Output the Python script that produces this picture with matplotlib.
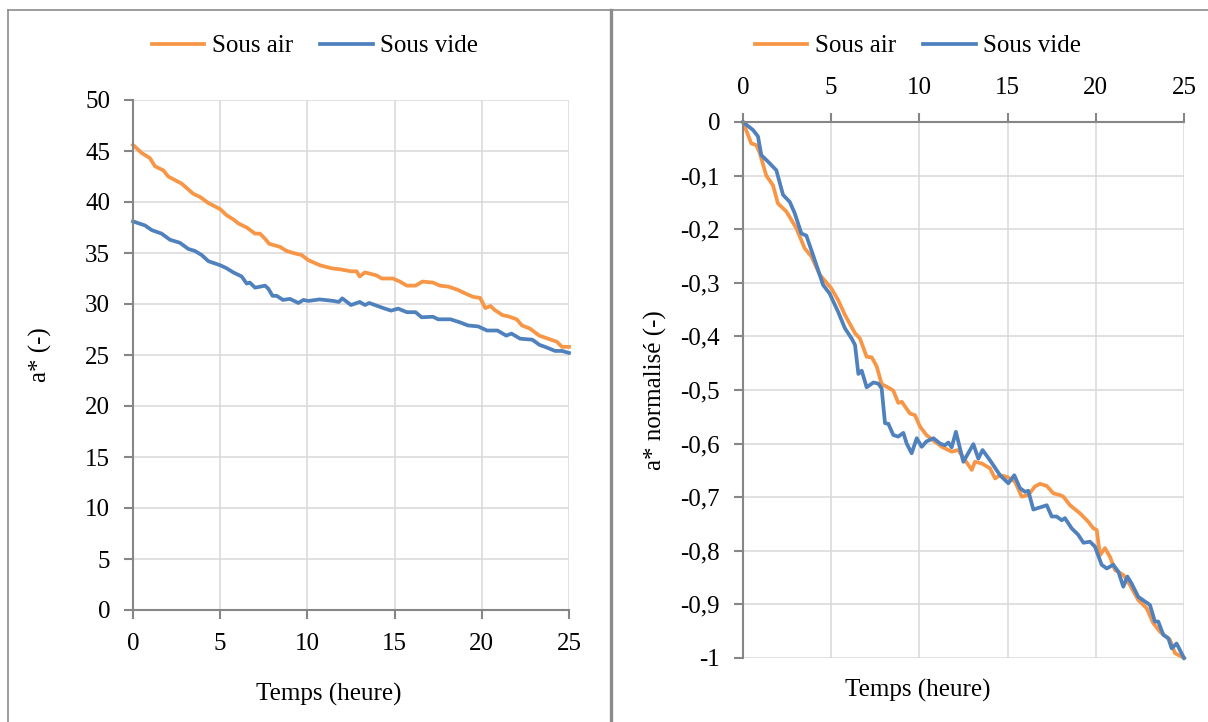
import matplotlib
matplotlib.use("Agg")
import matplotlib.pyplot as plt
from matplotlib.lines import Line2D
from matplotlib.ticker import FuncFormatter

plt.rcParams['font.family'] = ['Liberation Serif', 'DejaVu Serif']
plt.rcParams['font.size'] = 18

# --- a* brut (panneau gauche)
t_air = [0, 0.5, 0.97, 1.26, 1.74, 2.02, 2.79, 3.46, 3.84, 4.32,
         5.0, 5.37, 5.75, 6.04, 6.52, 7.0, 7.28, 7.57, 7.81, 8.43,
         8.81, 9.19, 9.67, 10.05, 10.72, 11.39, 11.87, 12.53, 12.82, 13.0,
         13.3, 13.97, 14.26, 14.9, 15.3, 15.7, 16.2, 16.6, 17.2, 17.6,
         18.1, 18.6, 19.1, 19.5, 19.9, 20.2, 20.5, 20.75, 21.2, 21.5,
         22.0, 22.3, 22.75, 23.3, 23.8, 24.3, 24.6, 25.0]
a_air = [45.6, 44.8, 44.3, 43.5, 43.1, 42.5, 41.8, 40.8, 40.5, 39.9,
         39.3, 38.7, 38.3, 37.9, 37.5, 36.9, 36.9, 36.4, 35.9, 35.6,
         35.2, 35.0, 34.8, 34.3, 33.8, 33.5, 33.4, 33.2, 33.2, 32.7,
         33.1, 32.8, 32.5, 32.5, 32.2, 31.8, 31.8, 32.2, 32.1, 31.8,
         31.7, 31.4, 31.0, 30.7, 30.6, 29.6, 29.8, 29.4, 28.9, 28.8,
         28.5, 27.9, 27.6, 26.9, 26.6, 26.3, 25.8, 25.8]

t_vide = [0, 0.69, 1.07, 1.64, 2.12, 2.69, 3.17, 3.55, 3.94, 4.32,
          5.0, 5.37, 5.75, 6.23, 6.52, 6.7, 7.0, 7.57, 7.76, 8.0,
          8.24, 8.6, 9.0, 9.48, 9.77, 10.05, 10.7, 11.5, 11.8, 12.0,
          12.5, 13.0, 13.3, 13.55, 14.35, 14.8, 15.2, 15.7, 16.2, 16.55,
          17.2, 17.5, 18.2, 18.75, 19.2, 19.8, 20.3, 20.9, 21.4, 21.7,
          22.2, 22.9, 23.3, 23.7, 24.2, 24.6, 25.0]
a_vide = [38.1, 37.7, 37.25, 36.9, 36.3, 36.0, 35.4, 35.2, 34.8, 34.2,
          33.8, 33.5, 33.1, 32.7, 32.0, 32.1, 31.6, 31.8, 31.5, 30.8,
          30.8, 30.4, 30.5, 30.1, 30.4, 30.3, 30.45, 30.3, 30.2, 30.55,
          29.9, 30.2, 29.9, 30.1, 29.6, 29.35, 29.55, 29.2, 29.2, 28.7,
          28.75, 28.5, 28.5, 28.2, 27.9, 27.8, 27.4, 27.4, 26.9, 27.1,
          26.6, 26.5, 26.0, 25.75, 25.4, 25.4, 25.2]

# --- a* normalisé (panneau droit)
tn_air = [0, 0.47, 0.75, 0.95, 1.32, 1.7, 1.98, 2.46, 3.02, 3.5,
          3.88, 4.35, 5.0, 5.39, 5.78, 6.35, 6.63, 7.01, 7.3, 7.58,
          7.86, 8.15, 8.52, 8.8, 9.0, 9.47, 9.75, 10.03, 10.4, 10.7,
          11.27, 11.83, 12.2, 12.59, 12.97, 13.15, 13.53, 14.0, 14.29, 14.57,
          14.95, 15.42, 15.8, 16.17, 16.55, 16.84, 17.22, 17.6, 17.97, 18.16,
          18.54, 19.1, 19.58, 19.86, 20.05, 20.24, 20.52, 20.8, 21.09, 21.56,
          21.94, 22.41, 22.88, 23.26, 23.64, 24.2, 24.49, 25.0]
n_air = [0, -0.04, -0.043, -0.058, -0.10, -0.118, -0.152, -0.167, -0.198, -0.236,
         -0.251, -0.285, -0.31, -0.332, -0.36, -0.394, -0.404, -0.438, -0.439, -0.456,
         -0.489, -0.494, -0.501, -0.524, -0.522, -0.544, -0.547, -0.568, -0.584, -0.592,
         -0.606, -0.615, -0.612, -0.631, -0.649, -0.634, -0.637, -0.646, -0.665, -0.659,
         -0.662, -0.671, -0.699, -0.696, -0.68, -0.675, -0.679, -0.693, -0.696, -0.699,
         -0.715, -0.73, -0.746, -0.758, -0.761, -0.808, -0.795, -0.811, -0.836, -0.845,
         -0.864, -0.892, -0.907, -0.935, -0.951, -0.966, -0.991, -1.0]

tn_vide = [0, 0.57, 0.85, 1.04, 1.42, 1.89, 2.27, 2.65, 2.93, 3.31,
           3.59, 3.97, 4.54, 4.91, 5.39, 5.78, 6.16, 6.35, 6.54, 6.73,
           7.01, 7.39, 7.67, 7.86, 8.05, 8.24, 8.52, 8.8, 9.09, 9.28,
           9.56, 9.85, 10.13, 10.4, 10.8, 11.17, 11.45, 11.64, 11.83, 12.07,
           12.49, 13.06, 13.34, 13.58, 14.0, 14.57, 15.04, 15.38, 15.7, 15.99,
           16.17, 16.46, 17.22, 17.5, 17.78, 18.07, 18.25, 18.63, 19.0, 19.3,
           19.67, 19.95, 20.33, 20.62, 20.99, 21.28, 21.56, 21.79, 22.03, 22.41,
           23.07, 23.35, 23.54, 23.83, 24.11, 24.3, 24.58, 25.0]
n_vide = [0, -0.015, -0.027, -0.062, -0.074, -0.09, -0.136, -0.149, -0.17, -0.208,
          -0.212, -0.248, -0.304, -0.32, -0.354, -0.385, -0.404, -0.416, -0.47, -0.464,
          -0.495, -0.486, -0.488, -0.497, -0.562, -0.563, -0.584, -0.587, -0.58, -0.6,
          -0.618, -0.59, -0.606, -0.596, -0.59, -0.6, -0.603, -0.598, -0.607, -0.578,
          -0.634, -0.601, -0.628, -0.612, -0.631, -0.659, -0.674, -0.659, -0.683, -0.69,
          -0.688, -0.723, -0.715, -0.736, -0.736, -0.743, -0.739, -0.758, -0.77, -0.785,
          -0.783, -0.792, -0.826, -0.833, -0.826, -0.839, -0.867, -0.848, -0.861, -0.886,
          -0.901, -0.932, -0.932, -0.957, -0.963, -0.982, -0.973, -1.0]

ORANGE = '#F79646'
BLEU = '#4F81BD'
AXE = '#868686'
GRILLE = '#D9D9D9'
LW = 2.7
W, H = 1208, 722

fig = plt.figure(figsize=(W / 100, H / 100), dpi=100)

def style(ax):
    ax.grid(True, color=GRILLE, linewidth=1.1)
    ax.set_axisbelow(True)
    for s in ax.spines.values():
        s.set_color(AXE)
        s.set_linewidth(1.5)
    ax.tick_params(direction='out', length=6.5, width=1.5, color=AXE, pad=10,
                   labelsize=18)

# panneau gauche
ax1 = fig.add_axes([133 / W, 1 - 610 / H, 436 / W, 510 / H])
style(ax1)
ax1.plot(t_air, a_air, color=ORANGE, lw=LW, clip_on=False, label='Sous air')
ax1.plot(t_vide, a_vide, color=BLEU, lw=LW, clip_on=False, label='Sous vide')
ax1.set_xlim(0, 25)
ax1.set_ylim(0, 50)
ax1.set_xticks(range(0, 26, 5))
ax1.set_yticks(range(0, 51, 5))
ax1.spines['top'].set_visible(False)
ax1.spines['right'].set_visible(False)

# panneau droit
ax2 = fig.add_axes([743 / W, 1 - 658 / H, 441 / W, 536 / H])
style(ax2)
ax2.plot(tn_air, n_air, color=ORANGE, lw=LW, clip_on=False, label='Sous air')
ax2.plot(tn_vide, n_vide, color=BLEU, lw=LW, clip_on=False, label='Sous vide')
ax2.set_xlim(0, 25)
ax2.set_ylim(-1, 0)
ax2.set_xticks(range(0, 26, 5))
ax2.set_yticks([-1 + 0.1 * i for i in range(11)])
ax2.yaxis.set_major_formatter(FuncFormatter(
    lambda v, p: ('%g' % round(v, 1)).replace('.', ',')))
ax2.xaxis.tick_top()
ax2.spines['bottom'].set_visible(False)
ax2.spines['right'].set_visible(False)

# textes des axes
fig.text(40 / W, 1 - 355 / H, 'a* (-)', rotation=90, ha='center', va='center', fontsize=18)
fig.text(329 / W, 1 - 694 / H, 'Temps (heure)', ha='center', va='center', fontsize=18)
fig.text(655 / W, 1 - 390 / H, 'a* normalisé (-)', rotation=90, ha='center', va='center', fontsize=18)
fig.text(918 / W, 1 - 690 / H, 'Temps (heure)', ha='center', va='center', fontsize=18)

# légendes
for ax, cx in [(ax1, 315), (ax2, 918)]:
    h, l = ax.get_legend_handles_labels()
    fig.legend(h, l, loc='center', bbox_to_anchor=(cx / W, 1 - 46 / H), ncol=2,
               frameon=False, fontsize=18, handlelength=2.1, handletextpad=0.3,
               columnspacing=1.1, borderaxespad=0)

# cadres
fig.add_artist(Line2D([8 / W, 1], [1 - 10 / H, 1 - 10 / H], color='#8C8C8C', lw=1.2))
fig.add_artist(Line2D([8 / W, 8 / W], [0, 1 - 10 / H], color='#8C8C8C', lw=1.2))
fig.add_artist(Line2D([611 / W, 611 / W], [0, 1 - 10 / H], color='#8C8C8C', lw=2.4))

fig.savefig('out.png', dpi=100)
